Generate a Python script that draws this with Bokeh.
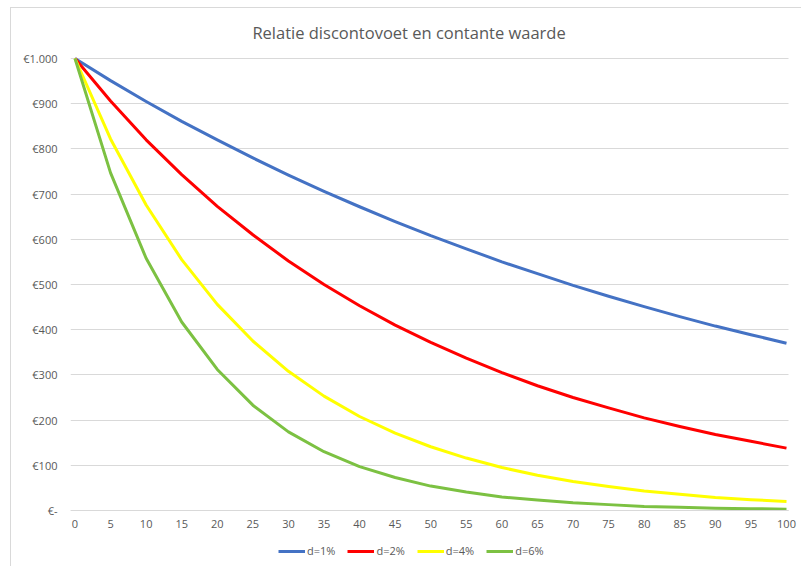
from bokeh.plotting import figure
from bokeh.models import Range1d, FixedTicker, Legend, LegendItem, Label
from bokeh.embed import file_html
from bokeh.resources import INLINE

# Present value of €1.000 after t years at different discount rates
years = list(range(0, 101, 5))
pv_1pct = [1000, 951, 905, 861, 820, 780, 742, 706, 672, 639, 608,
           579, 550, 524, 498, 474, 451, 429, 408, 389, 370]
pv_2pct = [1000, 906, 820, 743, 673, 610, 552, 500, 453, 410, 372,
           337, 305, 276, 250, 227, 205, 186, 168, 153, 138]
pv_4pct = [1000, 822, 676, 555, 456, 375, 308, 253, 208, 171, 141,
           116, 95, 78, 64, 53, 43, 36, 29, 24, 20]
pv_6pct = [1000, 747, 558, 417, 312, 233, 174, 130, 97, 73, 54,
           41, 30, 23, 17, 13, 9, 7, 5, 4, 3]

series_names = ["d=1%", "d=2%", "d=4%", "d=6%"]
series_colors = ["#4472C4", "#FF0000", "#FFFF00", "#7CC142"]

y_ticks = [0, 100, 200, 300, 400, 500, 600, 700, 800, 900, 1000]
y_tick_labels = ["€-", "€100", "€200", "€300", "€400", "€500",
                 "€600", "€700", "€800", "€900", "€1.000"]

chart_title = "Relatie discontovoet en contante waarde"

FONT = "Open Sans"
TEXT = "#595959"
GRID = "#d9d9d9"

# plot-area extent in years (gridlines and the x axis line stop here)
X_START, X_END = -0.63, 100.28

# The frame runs the full height and out to the right edge of the chart box
# so the title, the legend and the last tick label are not clipped; the
# x axis is pinned to y = 0.
p = figure(width=791, height=559, output_backend="svg", toolbar_location=None,
           x_range=Range1d(X_START, 102.25), y_range=Range1d(-126.1, 1110.6),
           min_border_left=59, min_border_right=0,
           min_border_top=0, min_border_bottom=0)
p.title.visible = False
p.outline_line_color = None
p.background_fill_color = "white"
p.border_fill_color = "white"
p.styles = {"margin-left": "10px", "margin-top": "7px",
            "border-left": "1px solid #d9d9d9",
            "border-top": "1px solid #d9d9d9"}

# axes
p.xaxis.fixed_location = 0
p.xaxis.ticker = FixedTicker(ticks=years)
p.xaxis.bounds = (X_START, X_END)
p.xaxis.axis_line_color = GRID
p.xaxis.major_tick_line_color = None
p.xaxis.minor_tick_line_color = None
p.xaxis.major_tick_out = 0
p.xaxis.major_tick_in = 0
p.xaxis.major_label_standoff = 9
p.xaxis.major_label_text_font = FONT
p.xaxis.major_label_text_font_size = "11px"
p.xaxis.major_label_text_color = TEXT

p.yaxis.ticker = FixedTicker(ticks=y_ticks)
p.yaxis.major_label_overrides = dict(zip(y_ticks, y_tick_labels))
p.yaxis.axis_line_color = None
p.yaxis.major_tick_line_color = None
p.yaxis.minor_tick_line_color = None
p.yaxis.major_tick_out = 0
p.yaxis.major_tick_in = 0
p.yaxis.major_label_standoff = 13
p.yaxis.major_label_text_font = FONT
p.yaxis.major_label_text_font_size = "11px"
p.yaxis.major_label_text_color = TEXT

p.xgrid.grid_line_color = None
p.ygrid.grid_line_color = GRID
p.ygrid.grid_line_width = 1
p.ygrid.cross_bounds = (X_START, X_END)

# curves
renderers = []
for vals, color in zip([pv_1pct, pv_2pct, pv_4pct, pv_6pct], series_colors):
    r = p.line(years, vals, line_width=3, line_color=color, line_join="round")
    renderers.append(r)

legend = Legend(items=[LegendItem(label=n, renderers=[r]) for n, r in zip(series_names, renderers)],
                orientation="horizontal", location=(208, 9),
                glyph_width=27, glyph_height=12, label_height=12,
                label_standoff=2, spacing=12, padding=0, margin=0,
                border_line_color=None, background_fill_alpha=0,
                label_text_font=FONT, label_text_font_size="11px",
                label_text_color=TEXT)
p.add_layout(legend, "center")

title = Label(x=46.95, y=1057.5, text=chart_title, text_align="center",
              text_baseline="middle", text_font=FONT, text_font_size="16.5px",
              text_color=TEXT)
p.add_layout(title)

open("out.html", "w").write(file_html(p, INLINE))
